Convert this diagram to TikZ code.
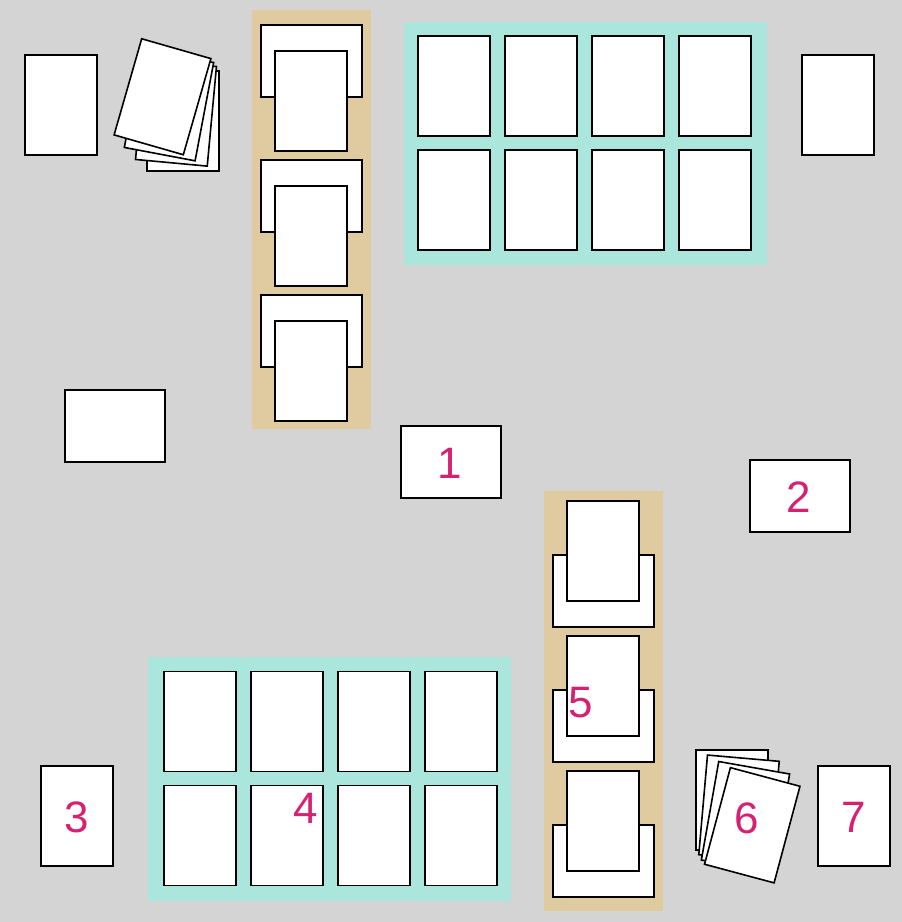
\documentclass[tikz,border=0pt]{standalone}
\usepackage{fontspec}
\setmainfont{Liberation Sans}
\definecolor{bggray}{RGB}{212,212,212}
\definecolor{tanbox}{RGB}{224,202,160}
\definecolor{tealbox}{RGB}{170,230,220}
\definecolor{numcol}{RGB}{214,33,114}
\tikzset{
  card/.style={draw=black, fill=white, line width=1.6pt, inner sep=0pt, minimum width=72pt, minimum height=100pt},
  wcard/.style={draw=black, fill=white, line width=1.6pt, inner sep=0pt, minimum width=101pt, minimum height=72pt},
  tanzone/.style={fill=tanbox, draw=none},
  tealzone/.style={fill=tealbox, draw=none},
  num/.style={text=numcol, font=\fontsize{44}{44}\selectfont, inner sep=0pt}
}
\begin{document}
\begin{tikzpicture}[x=1pt,y=-1pt]
\fill[bggray] (0,0) rectangle (902,922);
\useasboundingbox (0,0) rectangle (902,922);

% top-left single card
\node[card] (tl) at (61,105) {};

% top-left fanned deck
\node[card] (fa0) at (183,121) {};
\node[card, rotate=-5.3] (fa1) at (176,113) {};
\node[card, rotate=-10.7] (fa2) at (169,105) {};
\node[card, rotate=-16] (fa3) at (162.5,96.75) {};

% top tan column
\fill[tanzone] (252,10) rectangle (371,429);
\foreach \i/\yb/\yf in {1/61/101, 2/196/236, 3/331/371} {
  \node[wcard] (tw\i) at (311.5,\yb) {};
  \node[card] (tc\i) at (311,\yf) {};
}

% top teal grid
\fill[tealzone] (404,22) rectangle (767,265);
\foreach \c/\x in {1/454, 2/541, 3/628, 4/715} {
  \foreach \r/\y in {1/86, 2/200} {
    \node[card] (tg\c\r) at (\x,\y) {};
  }
}

% top-right card
\node[card] (tr) at (838,105) {};

% left horizontal card
\node[wcard, minimum width=100pt] (lh) at (115,426) {};

% numbered cards 1 and 2
\node[wcard, minimum width=100pt] (c1) at (451,462) {};
\node[num] (n1) at (450,463) {1};
\node[wcard, minimum width=100pt] (c2) at (800,496) {};
\node[num] (n2) at (799,497) {2};

% bottom tan column
\fill[tanzone] (544,491) rectangle (663,911);
\foreach \i/\yb/\yf in {1/591/551, 2/726/686, 3/861/821} {
  \node[wcard] (bw\i) at (603.5,\yb) {};
  \node[card] (bc\i) at (603,\yf) {};
}
\node[num] (n5) at (581,703) {5};

% bottom teal grid
\fill[tealzone] (148,657) rectangle (511,901);
\foreach \c/\x in {1/200, 2/287, 3/374, 4/461} {
  \foreach \r/\y in {1/721.5, 2/835.5} {
    \node[card] (bg\c\r) at (\x,\y) {};
  }
}
\node[num] (n4) at (306,808.5) {4};

% card 3
\node[card] (c3) at (77,816) {};
\node[num] (n3) at (77,817) {3};

% bottom-right fanned deck
\node[card] (fb0) at (732,800) {};
\node[card, rotate=-5] (fb1) at (739,808) {};
\node[card, rotate=-10] (fb2) at (745.5,817) {};
\node[card, rotate=-15] (fb3) at (752.25,825.25) {};
\node[num] (n6) at (747,818) {6};

% card 7
\node[card] (c7) at (854,816) {};
\node[num] (n7) at (854,817) {7};
\end{tikzpicture}
\end{document}
